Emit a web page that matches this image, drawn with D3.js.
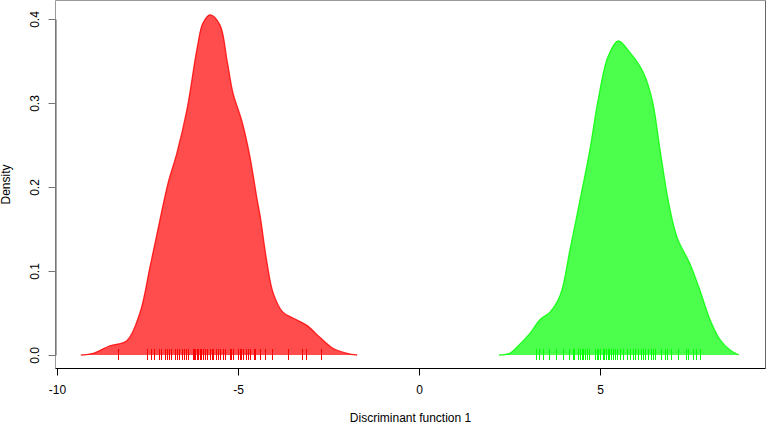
<!DOCTYPE html>
<html>
<head>
<meta charset="utf-8">
<script src="https://cdn.jsdelivr.net/npm/d3@7"></script>
<style>
  body { margin: 0; background: #fff; }
  svg { display: block; font-family: "Liberation Sans", Arial, sans-serif; }
  .tick text { font-size: 12px; fill: #000; }
</style>
</head>
<body>
<svg width="767" height="423"></svg>
<script>
// Density estimates (x = discriminant score, d = density)
var redX = [-9.34, -9.0, -8.54, -8.07, -7.71, -7.43, -7.16, -6.93, -6.69, -6.41, -6.13, -5.97,
  -5.77, -5.50, -5.30, -5.14, -4.89, -4.67, -4.48, -4.39, -4.20, -4.03, -3.76, -3.48,
  -3.09, -2.74, -2.38, -1.99, -1.71];
var redD = [0, 0.002, 0.011, 0.017, 0.050, 0.105, 0.160, 0.205, 0.240, 0.292, 0.365, 0.395,
  0.405, 0.393, 0.350, 0.312, 0.278, 0.236, 0.187, 0.166, 0.110, 0.074, 0.051, 0.044,
  0.035, 0.021, 0.008, 0.002, 0];

var greenX = [2.21, 2.51, 2.71, 3.07, 3.34, 3.62, 3.90, 4.17, 4.45, 4.72, 4.95, 5.22, 5.50,
  5.83, 6.19, 6.44, 6.66, 6.88, 7.13, 7.49, 7.76, 8.04, 8.32, 8.59, 8.84];
var greenD = [0, 0.002, 0.0095, 0.026, 0.042, 0.051, 0.071, 0.125, 0.185, 0.244, 0.304, 0.355,
  0.374, 0.360, 0.337, 0.304, 0.244, 0.185, 0.140, 0.108, 0.077, 0.042, 0.018, 0.006, 0];

// individual scores (rug)
var redRug = [-8.32, -7.51, -7.40, -7.32, -7.18, -7.13, -7.02, -6.96, -6.91, -6.85, -6.74,
  -6.69, -6.63, -6.55, -6.49, -6.44, -6.38, -6.24, -6.22, -6.19, -6.13, -6.11, -6.05, -6.02,
  -5.97, -5.91, -5.86, -5.77, -5.72, -5.69, -5.61, -5.55, -5.50, -5.41, -5.36, -5.22, -5.19,
  -5.14, -5.00, -4.95, -4.92, -4.86, -4.78, -4.72, -4.67, -4.56, -4.53, -4.39, -4.25, -4.06,
  -3.62, -3.23, -3.12, -2.71];
var greenRug = [3.23, 3.32, 3.43, 3.59, 3.79, 3.98, 4.14, 4.25, 4.28, 4.39, 4.45, 4.50, 4.53,
  4.59, 4.64, 4.70, 4.86, 4.92, 4.95, 5.00, 5.08, 5.11, 5.17, 5.22, 5.25, 5.30, 5.36, 5.41,
  5.47, 5.55, 5.64, 5.75, 5.83, 5.91, 5.97, 6.05, 6.13, 6.19, 6.24, 6.33, 6.41, 6.46, 6.52,
  6.69, 6.80, 6.85, 6.96, 7.16, 7.38, 7.43, 7.57, 7.65, 7.76];

var xTicks = [-10, -5, 0, 5];
var yTicks = [0, 0.1, 0.2, 0.3, 0.4];

var groups = [
  {xs: redX, ds: redD, rug: redRug, fill: "rgba(255,0,0,0.7)", line: "#ff0000"},
  {xs: greenX, ds: greenD, rug: greenRug, fill: "rgba(0,255,0,0.7)", line: "#00ff00"}
];

var svg = d3.select("svg");

var x = d3.scaleLinear().domain([-10, 5]).range([57, 600]);
var y = d3.scaleLinear().domain([0, 0.4]).range([355, 19]);

var plot = {left: 55.5, top: 0.5, right: 765.5, bottom: 368.5};

var curve = d3.curveCatmullRom.alpha(0.5);

var area = d3.area()
  .curve(curve)
  .x(function(d) { return x(d[0]); })
  .y0(y(0))
  .y1(function(d) { return y(d[1]); });

var line = d3.line()
  .curve(curve)
  .x(function(d) { return x(d[0]); })
  .y(function(d) { return y(d[1]); });

groups.forEach(function(g) {
  var pts = g.xs.map(function(v, i) { return [v, g.ds[i]]; });

  svg.append("path")
    .datum(pts)
    .attr("d", area)
    .attr("fill", g.fill)
    .attr("stroke", "none");

  svg.append("path")
    .datum(pts)
    .attr("d", line)
    .attr("fill", "none")
    .attr("stroke", g.line)
    .attr("stroke-opacity", 0.8)
    .attr("stroke-width", 1.3);

  // rug marks
  svg.append("g")
    .selectAll("line")
    .data(g.rug)
    .enter().append("line")
      .attr("x1", function(d) { return Math.round(x(d)) + 0.5; })
      .attr("x2", function(d) { return Math.round(x(d)) + 0.5; })
      .attr("y1", y(0) - 6)
      .attr("y2", y(0) + 5)
      .attr("stroke", g.line)
      .attr("stroke-width", 1);
});

// box round the plot region
svg.append("line")
  .attr("x1", plot.left).attr("x2", plot.right)
  .attr("y1", plot.top).attr("y2", plot.top)
  .attr("stroke", "#999");
svg.append("line")
  .attr("x1", plot.left).attr("x2", plot.left)
  .attr("y1", plot.top).attr("y2", plot.bottom)
  .attr("stroke", "#999");
svg.append("line")
  .attr("x1", plot.right).attr("x2", plot.right)
  .attr("y1", plot.top).attr("y2", plot.bottom)
  .attr("stroke", "#666");
svg.append("line")
  .attr("x1", plot.left).attr("x2", plot.right)
  .attr("y1", plot.bottom).attr("y2", plot.bottom)
  .attr("stroke", "#000");

// y axis
var yAxis = svg.append("g")
  .attr("transform", "translate(" + plot.left + ",0)")
  .call(d3.axisLeft(y)
    .tickValues(yTicks)
    .tickSize(7)
    .tickSizeOuter(0)
    .tickFormat(d3.format(".1f")));
yAxis.select(".domain").attr("stroke", "#555");
yAxis.selectAll(".tick line").attr("stroke", "#777");
yAxis.selectAll(".tick text")
  .attr("x", 0).attr("dy", 0)
  .attr("text-anchor", "middle")
  .attr("transform", "translate(-17,0) rotate(-90)");

// x axis
var xAxis = svg.append("g")
  .attr("transform", "translate(0," + plot.bottom + ")")
  .call(d3.axisBottom(x)
    .tickValues(xTicks)
    .tickSize(7)
    .tickSizeOuter(0)
    .tickFormat(d3.format("d")));
xAxis.select(".domain").remove();
xAxis.selectAll(".tick line").attr("stroke", "#000");
xAxis.selectAll(".tick text").attr("y", 25.5).attr("dy", 0)
  .text(function(d) { return d < 0 ? "-" + Math.abs(d) : d; });

// axis titles
svg.append("text")
  .attr("x", (plot.left + plot.right) / 2)
  .attr("y", 421.5)
  .attr("text-anchor", "middle")
  .attr("font-size", 12)
  .text("Discriminant function 1");

svg.append("text")
  .attr("transform", "translate(10," + (plot.top + plot.bottom) / 2 + ") rotate(-90)")
  .attr("text-anchor", "middle")
  .attr("font-size", 12)
  .text("Density");
</script>
</body>
</html>
